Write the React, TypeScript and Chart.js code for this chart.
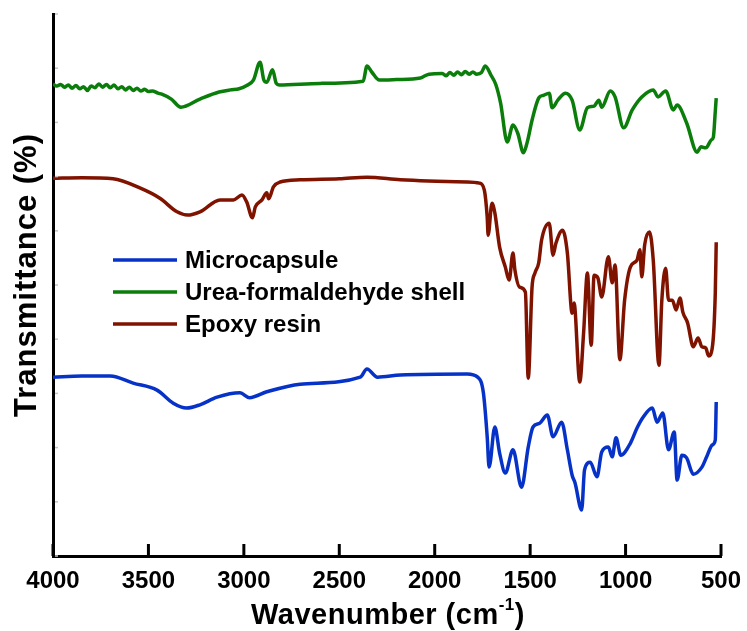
import React, { useEffect, useRef } from "react";
import { Chart, registerables } from "chart.js";

Chart.register(...registerables);

const FONT = '"Liberation Sans", Arial, Helvetica, sans-serif';

// FTIR spectra: wavenumber (cm-1) and transmittance, each trace offset vertically
const microWn = [4000, 3850, 3700, 3580, 3455, 3370, 3300, 3230, 3140, 3020, 2970, 2880, 2705, 2390, 2355, 2300, 2180, 1830, 1775, 1745, 1725, 1715, 1685, 1660, 1630, 1590, 1545, 1510, 1485, 1450, 1410, 1380, 1335, 1305, 1280, 1265, 1230, 1215, 1185, 1150, 1125, 1090, 1070, 1050, 1025, 975, 940, 910, 860, 835, 805, 775, 745, 730, 705, 680, 645, 600, 575, 545, 530, 525];
const microT = [33.0, 33.2, 33.2, 31.9, 30.6, 28.2, 27.3, 27.9, 29.3, 30.1, 29.2, 30.3, 31.7, 33.0, 34.5, 33.0, 33.4, 33.6, 33.0, 30.1, 22.0, 16.4, 23.8, 19.0, 15.3, 19.6, 12.7, 20.1, 23.8, 24.5, 26.0, 22.0, 24.7, 19.6, 14.9, 13.5, 8.5, 15.9, 17.3, 14.6, 19.2, 20.1, 18.3, 21.8, 18.6, 20.8, 23.6, 25.5, 27.3, 24.7, 26.4, 19.6, 22.9, 14.0, 18.6, 18.1, 15.1, 16.4, 18.3, 20.5, 21.4, 28.4];

const ureaWn = [4000, 3980, 3960, 3940, 3920, 3900, 3880, 3860, 3840, 3820, 3800, 3780, 3760, 3740, 3720, 3700, 3680, 3660, 3640, 3620, 3600, 3580, 3560, 3540, 3520, 3500, 3480, 3450, 3430, 3380, 3330, 3230, 3130, 3070, 3025, 2985, 2950, 2915, 2895, 2880, 2850, 2830, 2815, 2600, 2375, 2355, 2330, 2290, 2200, 2075, 2030, 1960, 1940, 1920, 1900, 1880, 1860, 1840, 1820, 1800, 1780, 1755, 1735, 1705, 1680, 1655, 1620, 1590, 1565, 1535, 1515, 1490, 1455, 1430, 1400, 1385, 1355, 1315, 1280, 1240, 1200, 1165, 1140, 1125, 1080, 1055, 1010, 965, 915, 855, 830, 790, 750, 730, 680, 625, 605, 580, 550, 540, 530, 525];
const ureaT = [87.1, 86.7, 87.0, 86.5, 86.9, 86.3, 86.8, 86.2, 86.6, 85.9, 86.7, 86.4, 87.1, 86.5, 87.0, 86.4, 86.9, 86.2, 86.6, 86.0, 86.5, 85.9, 86.3, 85.8, 86.1, 85.7, 85.8, 85.4, 85.2, 84.3, 82.8, 84.3, 85.6, 86.0, 86.2, 86.8, 87.8, 91.1, 87.8, 87.4, 89.7, 87.2, 86.9, 87.2, 87.6, 90.4, 89.3, 87.8, 87.9, 88.2, 88.9, 89.0, 88.6, 89.2, 88.7, 89.3, 88.8, 89.4, 88.9, 89.3, 88.9, 89.2, 90.4, 88.7, 87.0, 83.6, 76.4, 79.5, 78.0, 74.4, 76.4, 80.4, 84.5, 85.0, 85.4, 82.7, 84.1, 85.4, 84.1, 78.6, 82.7, 83.0, 84.1, 82.8, 85.8, 84.7, 79.0, 82.3, 84.7, 86.0, 84.7, 85.8, 82.3, 83.2, 79.9, 74.5, 75.5, 75.3, 76.8, 77.3, 82.0, 84.5];

const epoxyWn = [4000, 3850, 3685, 3545, 3440, 3350, 3295, 3230, 3125, 3055, 3010, 2985, 2955, 2940, 2905, 2880, 2870, 2845, 2810, 2705, 2500, 2355, 2180, 1830, 1765, 1740, 1725, 1720, 1700, 1685, 1660, 1630, 1610, 1590, 1580, 1555, 1525, 1510, 1490, 1475, 1455, 1440, 1400, 1380, 1365, 1330, 1305, 1280, 1270, 1240, 1220, 1200, 1180, 1165, 1145, 1125, 1090, 1070, 1055, 1030, 1005, 975, 940, 925, 915, 900, 875, 855, 825, 810, 790, 775, 755, 735, 715, 700, 675, 645, 620, 600, 580, 565, 545, 530, 525];
const epoxyT = [69.7, 69.8, 69.6, 67.9, 66.0, 63.5, 62.9, 63.5, 65.7, 65.7, 66.6, 65.3, 62.4, 64.4, 65.7, 67.0, 65.9, 68.1, 69.0, 69.4, 69.6, 69.9, 69.4, 69.0, 68.8, 67.5, 62.5, 59.2, 65.1, 63.3, 57.0, 53.3, 50.9, 55.9, 52.8, 49.6, 48.7, 32.8, 49.6, 52.2, 54.1, 58.3, 61.4, 55.5, 57.7, 60.1, 55.9, 44.8, 46.7, 32.1, 41.1, 52.2, 38.9, 51.8, 51.3, 47.8, 55.2, 50.4, 53.7, 36.2, 47.2, 53.3, 54.6, 56.5, 51.5, 57.4, 59.8, 54.6, 35.2, 47.2, 53.1, 47.2, 47.2, 45.4, 47.6, 45.0, 43.0, 38.6, 40.2, 38.6, 38.4, 36.9, 38.6, 48.5, 57.9];

const seriesNames = ["Microcapsule", "Urea-formaldehyde shell", "Epoxy resin"];
const seriesColors = ["#0632c8", "#0b7d0b", "#801200"];
const xTickValues = [4000, 3500, 3000, 2500, 2000, 1500, 1000, 500];
const yMinorTicks = [0, 10, 20, 30, 40, 50, 60, 70, 80, 90, 100];
const xTitleMain = "Wavenumber (cm";
const xTitleSup = "-1";
const xTitleEnd = ")";
const yTitle = "Transmittance (%)";

const toPoints = (wn: number[], t: number[]) => wn.map((w, i) => ({ x: w, y: t[i] }));

const decorPlugin = {
  id: "spectrumDecor",
  afterDraw(chart: any) {
    const { ctx, chartArea, scales } = chart;
    const xs = scales.x;
    const ys = scales.y;
    ctx.save();

    // faint minor ticks along the transmittance axis
    ctx.strokeStyle = "#c4c4c4";
    ctx.lineWidth = 1.5;
    for (const v of yMinorTicks) {
      const py = ys.getPixelForValue(v);
      ctx.beginPath();
      ctx.moveTo(chartArea.left + 2, py);
      ctx.lineTo(chartArea.left + 5, py);
      ctx.stroke();
    }

    // inward major ticks on the wavenumber axis
    ctx.strokeStyle = "#000";
    ctx.lineWidth = 3;
    for (const v of xTickValues) {
      const px = xs.getPixelForValue(v);
      ctx.beginPath();
      ctx.moveTo(px, chartArea.bottom);
      ctx.lineTo(px, chartArea.bottom - 12);
      ctx.stroke();
    }

    // legend
    const lx0 = chartArea.left + 60;
    const lx1 = chartArea.left + 124;
    const rowY = [chartArea.top + 246, chartArea.top + 278, chartArea.top + 310];
    ctx.font = `bold 24px ${FONT}`;
    ctx.textBaseline = "middle";
    ctx.textAlign = "left";
    chart.data.datasets.forEach((ds: any, i: number) => {
      ctx.strokeStyle = ds.borderColor;
      ctx.lineWidth = 3.5;
      ctx.beginPath();
      ctx.moveTo(lx0, rowY[i]);
      ctx.lineTo(lx1, rowY[i]);
      ctx.stroke();
      ctx.fillStyle = "#000";
      ctx.fillText(ds.label, lx1 + 8, rowY[i] + 1);
    });

    // x-axis title with superscript
    const cx = (chartArea.left + chartArea.right) / 2 + 1;
    const base = chartArea.bottom + 68;
    ctx.textBaseline = "alphabetic";
    (ctx as any).letterSpacing = "0.5px";
    ctx.font = `bold 29px ${FONT}`;
    const w1 = ctx.measureText(xTitleMain).width;
    const w3 = ctx.measureText(xTitleEnd).width;
    ctx.font = `bold 17px ${FONT}`;
    const w2 = ctx.measureText(xTitleSup).width;
    let sx = cx - (w1 + w2 + w3) / 2;
    ctx.fillStyle = "#000";
    ctx.font = `bold 29px ${FONT}`;
    ctx.fillText(xTitleMain, sx, base);
    sx += w1;
    ctx.font = `bold 17px ${FONT}`;
    ctx.fillText(xTitleSup, sx, base - 14);
    sx += w2;
    ctx.font = `bold 29px ${FONT}`;
    ctx.fillText(xTitleEnd, sx, base);

    // y-axis title
    ctx.save();
    ctx.translate(27, (chartArea.top + chartArea.bottom) / 2 - 10);
    ctx.rotate(-Math.PI / 2);
    ctx.textAlign = "center";
    ctx.textBaseline = "middle";
    (ctx as any).letterSpacing = "1px";
    ctx.font = `bold 31px ${FONT}`;
    ctx.fillText(yTitle, 0, 0);
    ctx.restore();

    ctx.restore();
  },
};

export default function App() {
  const canvasRef = useRef<HTMLCanvasElement | null>(null);

  useEffect(() => {
    if (!canvasRef.current) return;
    const series = [
      toPoints(microWn, microT),
      toPoints(ureaWn, ureaT),
      toPoints(epoxyWn, epoxyT),
    ];
    const chart = new Chart(canvasRef.current, {
      type: "line",
      data: {
        datasets: series.map((pts, i) => ({
          label: seriesNames[i],
          data: pts,
          borderColor: seriesColors[i],
          backgroundColor: seriesColors[i],
          borderWidth: 3.5,
          pointRadius: 0,
          fill: false,
          cubicInterpolationMode: "monotone" as const,
          borderJoinStyle: "round" as const,
        })),
      },
      options: {
        responsive: false,
        animation: false,
        devicePixelRatio: 1,
        layout: { padding: { left: 0, top: 14, right: 26, bottom: 0 } },
        plugins: {
          legend: { display: false },
          tooltip: { enabled: false },
        },
        scales: {
          x: {
            type: "linear",
            min: 500,
            max: 4000,
            reverse: true,
            afterFit: (scale: any) => {
              scale.height = 75;
              scale.paddingLeft = 0;
              scale.paddingRight = 0;
            },
            afterBuildTicks: (scale: any) => {
              scale.ticks = xTickValues.map((v) => ({ value: v }));
            },
            grid: { display: false, drawTicks: false },
            border: { display: true, color: "#000", width: 3 },
            ticks: {
              color: "#000",
              padding: 11,
              maxRotation: 0,
              autoSkip: false,
              callback: (v: any) => String(v),
              font: { family: FONT, size: 24, weight: "bold" },
            },
          },
          y: {
            type: "linear",
            min: 0,
            max: 100,
            afterFit: (scale: any) => {
              scale.width = 53;
            },
            grid: { display: false, drawTicks: false },
            border: { display: true, color: "#000", width: 3 },
            ticks: { display: false },
          },
        },
      },
      plugins: [decorPlugin],
    });
    return () => chart.destroy();
  }, []);

  return (
    <div style={{ position: "absolute", left: 0, top: 0, width: 747, height: 631, background: "#fff" }}>
      <canvas ref={canvasRef} width={747} height={631} />
    </div>
  );
}
